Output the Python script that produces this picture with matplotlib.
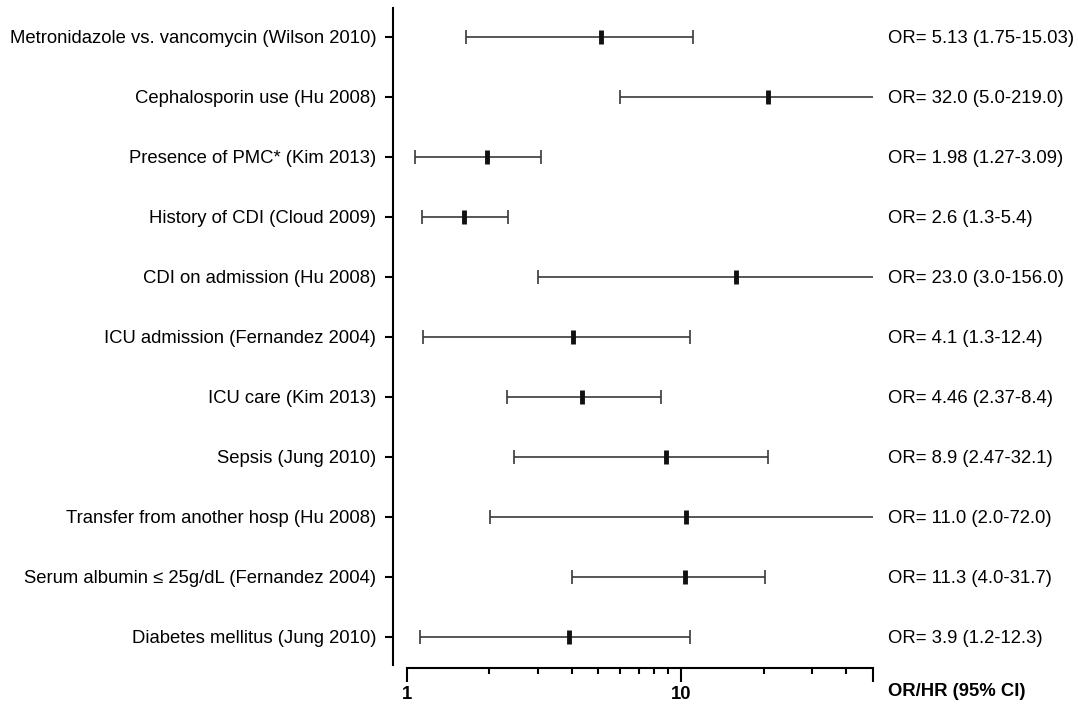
import numpy as np
import matplotlib
matplotlib.use("Agg")
from matplotlib import pyplot as plt

plt.rcParams['font.family'] = ['Liberation Sans', 'DejaVu Sans']
plt.rcParams['font.size'] = 13.3

# Rows from top to bottom
labels = ["Metronidazole vs. vancomycin (Wilson 2010)",
          "Cephalosporin use (Hu 2008)",
          "Presence of PMC* (Kim 2013)",
          "History of CDI (Cloud 2009)",
          "CDI on admission (Hu 2008)",
          "ICU admission (Fernandez 2004)",
          "ICU care (Kim 2013)",
          "Sepsis (Jung 2010)",
          "Transfer from another hosp (Hu 2008)",
          "Serum albumin \u2264 25g/dL (Fernandez 2004)",
          "Diabetes mellitus (Jung 2010)"]

# plotted positions
point = [5.11, 20.8, 1.96, 1.62, 15.8, 4.04, 4.37, 8.84, 10.4, 10.3, 3.91]
low = [1.65, 5.98, 1.075, 1.14, 3.02, 1.15, 2.32, 2.47, 2.01, 4.02, 1.115]
high = [11.1, 219.0, 3.08, 2.34, 156.0, 10.76, 8.43, 20.7, 72.0, 20.3, 10.8]

or_text = ["OR= 5.13 (1.75-15.03)",
           "OR= 32.0 (5.0-219.0)",
           "OR= 1.98 (1.27-3.09)",
           "OR= 2.6 (1.3-5.4)",
           "OR= 23.0 (3.0-156.0)",
           "OR= 4.1 (1.3-12.4)",
           "OR= 4.46 (2.37-8.4)",
           "OR= 8.9 (2.47-32.1)",
           "OR= 11.0 (2.0-72.0)",
           "OR= 11.3 (4.0-31.7)",
           "OR= 3.9 (1.2-12.3)"]

point = np.array(point)
low = np.array(low)
high = np.array(high)
y = np.arange(len(labels))

fig = plt.figure(figsize=(10.78, 7.10), dpi=100)
ax = fig.add_axes([0.3773, 0.0634, 0.4323, 0.9253])

ax.errorbar(point, y, xerr=[point - low, high - point], fmt='none',
            ecolor='#3a3a3a', elinewidth=1.2, capsize=5, capthick=1.2)
ax.plot(point, y, linestyle='none', marker='|', markersize=10,
        markeredgewidth=3.5, color='#111111')

ax.set_xscale('log')
ax.set_xlim(1, 50)
ax.set_ylim(10.47, -0.48)

ax.tick_params(axis='x', which='major', length=10, width=1.5, pad=3)
ax.tick_params(axis='x', which='minor', length=4.5, width=1.5)
ax.tick_params(axis='y', length=6, width=1.5, pad=6)

ax.set_xticks([1, 10, 50])
ax.set_xticklabels(['1', '10', ''])
ax.set_xticks([2, 3, 4, 5, 6, 7, 8, 9, 20, 30, 40], minor=True)
ax.xaxis.set_minor_formatter(matplotlib.ticker.NullFormatter())

ax.set_yticks(y)
ax.set_yticklabels(labels)

for s in ['top', 'right']:
    ax.spines[s].set_visible(False)
ax.spines['left'].set_position(('outward', 10))
ax.spines['bottom'].set_position(('outward', 2))
ax.spines['left'].set_linewidth(1.5)
ax.spines['bottom'].set_linewidth(1.5)

for yi, t in zip(y, or_text):
    ax.annotate(t, xy=(1, yi), xycoords=('axes fraction', 'data'),
                xytext=(15, 0), textcoords='offset pixels',
                va='center_baseline', ha='left')

ax.annotate("OR/HR (95% CI)", xy=(1, 0), xycoords='axes fraction',
            xytext=(15, -27), textcoords='offset pixels',
            va='center', ha='left', fontweight='bold')

# ticks are rebuilt on draw, so make the labels bold afterwards
fig.canvas.draw()
for tick in ax.xaxis.get_major_ticks():
    tick.label1.set_fontweight('bold')

fig.savefig("out.png", dpi=100)
